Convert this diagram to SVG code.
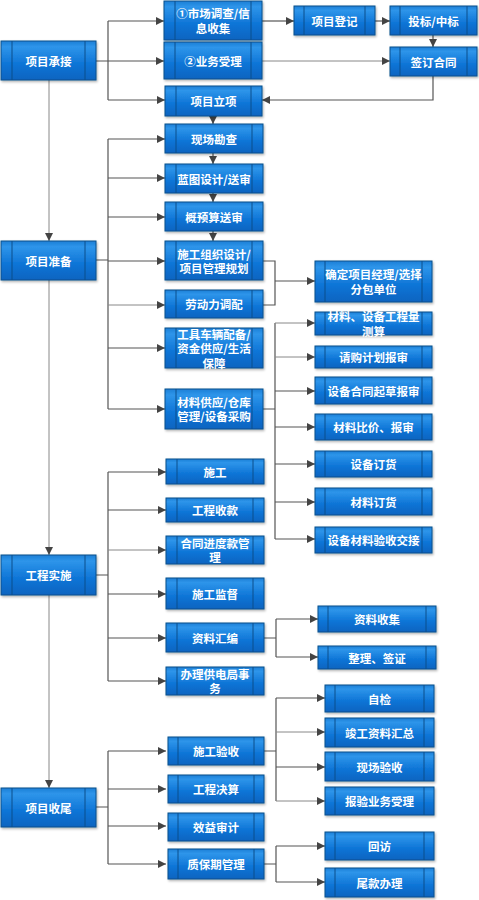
<svg xmlns="http://www.w3.org/2000/svg" width="479" height="900" viewBox="0 0 479 900">
<defs>
<linearGradient id="g" x1="0" y1="0" x2="0" y2="1">
<stop offset="0" stop-color="#1b7fd6"/>
<stop offset="0.15" stop-color="#2e95ea"/>
<stop offset="0.6" stop-color="#0d74d6"/>
<stop offset="1" stop-color="#0a64c0"/>
</linearGradient>
<filter id="sh" x="-10%" y="-10%" width="125%" height="140%">
<feDropShadow dx="1" dy="1.5" stdDeviation="1" flood-color="#000" flood-opacity="0.3"/>
</filter>
<marker id="a" markerWidth="8" markerHeight="8" refX="8" refY="4" orient="auto" markerUnits="userSpaceOnUse">
<path d="M0,0 L8,4 L0,8 z" fill="#444"/>
</marker>
</defs>
<style>
.b{fill:url(#g);stroke:#0b4f8c;stroke-width:1;filter:url(#sh)}
.s{stroke:#0b4f8c;stroke-width:1}
.t{fill:#fff;font-family:"Noto Sans CJK SC","Liberation Sans",sans-serif;font-size:11.5px;font-weight:bold;text-anchor:middle;dominant-baseline:central}
.c{fill:none;stroke:#555;stroke-width:1.2}
.c2{fill:none;stroke:#888;stroke-width:1}
.ar{marker-end:url(#a)}
</style>
<rect width="479" height="900" fill="#fff"/>
<g id="connectors">
<path class="c" d="M96,61 H108 M108,21 V100"/>
<path class="c ar" d="M108,21 H164"/>
<path class="c ar" d="M108,61 H164"/>
<path class="c ar" d="M108,100 H165"/>
<path class="c ar" d="M262,21 H294"/>
<path class="c ar" d="M375,21 H390"/>
<path class="c ar" d="M433,35 V47"/>
<path class="c2 ar" d="M262,61 H390"/>
<path class="c ar" d="M433,76 V100 H262"/>
<path class="c ar" d="M213,116 V124"/>
<path class="c ar" d="M213,153 V164"/>
<path class="c ar" d="M213,193 V202"/>
<path class="c ar" d="M213,231 V241"/>
<path class="c2 ar" d="M49,80 V241"/>
<path class="c" d="M96,260 H108 M108,139 V409"/>
<path class="c ar" d="M108,139 H165"/>
<path class="c ar" d="M108,178 H165"/>
<path class="c ar" d="M108,217 H165"/>
<path class="c ar" d="M108,261 H165"/>
<path class="c2 ar" d="M108,305 H165"/>
<path class="c ar" d="M108,348 H165"/>
<path class="c ar" d="M108,409 H165"/>
<path class="c" d="M263,261 H275 V305 H263"/>
<path class="c ar" d="M275,281 H315"/>
<path class="c" d="M263,409 H275 M275,323 V539"/>
<path class="c2 ar" d="M275,323 H315"/>
<path class="c2 ar" d="M275,357 H315"/>
<path class="c ar" d="M275,391 H315"/>
<path class="c ar" d="M275,427 H315"/>
<path class="c ar" d="M275,464 H315"/>
<path class="c ar" d="M275,502 H315"/>
<path class="c ar" d="M275,539 H315"/>
<path class="c2 ar" d="M49,280 V555"/>
<path class="c" d="M96,575 H108 M108,472 V681"/>
<path class="c ar" d="M108,472 H166"/>
<path class="c ar" d="M108,510 H166"/>
<path class="c2 ar" d="M108,550 H166"/>
<path class="c ar" d="M108,594 H166"/>
<path class="c ar" d="M108,638 H166"/>
<path class="c ar" d="M108,681 H166"/>
<path class="c" d="M264,638 H276 M276,619 V657"/>
<path class="c ar" d="M276,619 H318"/>
<path class="c ar" d="M276,657 H318"/>
<path class="c2 ar" d="M49,595 V788"/>
<path class="c" d="M96,807 H108 M108,751 V864"/>
<path class="c ar" d="M108,751 H166"/>
<path class="c ar" d="M108,789 H166"/>
<path class="c ar" d="M108,826 H166"/>
<path class="c ar" d="M108,864 H166"/>
<path class="c" d="M264,751 H276 M276,698 V801"/>
<path class="c ar" d="M276,698 H325"/>
<path class="c2 ar" d="M276,732 H325"/>
<path class="c ar" d="M276,767 H325"/>
<path class="c2 ar" d="M276,801 H325"/>
<path class="c" d="M264,864 H276 M276,846 V882"/>
<path class="c ar" d="M276,846 H325"/>
<path class="c ar" d="M276,882 H325"/>
</g>
<g id="n1"><rect class="b" x="1" y="41" width="95" height="39"/><path class="s" d="M12,41 V80 M85,41 V80"/><text class="t" x="48.5" y="60.5">项目承接</text></g>
<g id="n2"><rect class="b" x="1" y="241" width="95" height="39"/><path class="s" d="M12,241 V280 M85,241 V280"/><text class="t" x="48.5" y="260.5">项目准备</text></g>
<g id="n3"><rect class="b" x="1" y="555" width="95" height="40"/><path class="s" d="M12,555 V595 M85,555 V595"/><text class="t" x="48.5" y="575">工程实施</text></g>
<g id="n4"><rect class="b" x="1" y="788" width="95" height="39"/><path class="s" d="M12,788 V827 M85,788 V827"/><text class="t" x="48.5" y="807.5">项目收尾</text></g>

<g id="a1"><rect class="b" x="164" y="1" width="98" height="39"/><path class="s" d="M175,1 V40 M251,1 V40"/><text class="t" x="213" y="13">①市场调查/信</text><text class="t" x="213" y="28">息收集</text></g>
<g id="a2"><rect class="b" x="164" y="42" width="98" height="37"/><path class="s" d="M175,42 V79 M251,42 V79"/><text class="t" x="213" y="60.5">②业务受理</text></g>
<g id="a3"><rect class="b" x="165" y="86" width="97" height="30"/><path class="s" d="M176,86 V116 M251,86 V116"/><text class="t" x="213.5" y="101">项目立项</text></g>
<g id="a4"><rect class="b" x="294" y="6" width="81" height="29"/><path class="s" d="M304,6 V35 M365,6 V35"/><text class="t" x="334.5" y="20.5">项目登记</text></g>
<g id="a5"><rect class="b" x="390" y="6" width="87" height="29"/><path class="s" d="M400,6 V35 M467,6 V35"/><text class="t" x="433.5" y="20.5">投标/中标</text></g>
<g id="a6"><rect class="b" x="390" y="47" width="87" height="29"/><path class="s" d="M400,47 V76 M467,47 V76"/><text class="t" x="433.5" y="61.5">签订合同</text></g>

<g id="b1"><rect class="b" x="165" y="124" width="98" height="29"/><path class="s" d="M176,124 V153 M252,124 V153"/><text class="t" x="214" y="138.5">现场勘查</text></g>
<g id="b2"><rect class="b" x="165" y="164" width="98" height="29"/><path class="s" d="M176,164 V193 M252,164 V193"/><text class="t" x="214" y="178.5">蓝图设计/送审</text></g>
<g id="b3"><rect class="b" x="165" y="202" width="98" height="29"/><path class="s" d="M176,202 V231 M252,202 V231"/><text class="t" x="214" y="216.5">概预算送审</text></g>
<g id="b4"><rect class="b" x="165" y="241" width="98" height="39"/><path class="s" d="M176,241 V280 M252,241 V280"/><text class="t" x="214" y="253.5">施工组织设计/</text><text class="t" x="214" y="268">项目管理规划</text></g>
<g id="b5"><rect class="b" x="165" y="290" width="98" height="28"/><path class="s" d="M176,290 V318 M252,290 V318"/><text class="t" x="214" y="304">劳动力调配</text></g>
<g id="b6"><rect class="b" x="165" y="328" width="98" height="40"/><path class="s" d="M176,328 V368 M252,328 V368"/><text class="t" x="214" y="333.5">工具车辆配备/</text><text class="t" x="214" y="348">资金供应/生活</text><text class="t" x="214" y="362.5">保障</text></g>
<g id="b7"><rect class="b" x="165" y="389" width="98" height="40"/><path class="s" d="M176,389 V429 M252,389 V429"/><text class="t" x="214" y="401.5">材料供应/仓库</text><text class="t" x="214" y="416">管理/设备采购</text></g>

<g id="c1"><rect class="b" x="315" y="261" width="117" height="41"/><path class="s" d="M325,261 V302 M422,261 V302"/><text class="t" x="373.5" y="274">确定项目经理/选择</text><text class="t" x="373.5" y="289">分包单位</text></g>
<g id="c2"><rect class="b" x="315" y="312" width="117" height="23"/><path class="s" d="M325,312 V335 M422,312 V335"/><text class="t" x="373.5" y="316.25">材料、设备工程量</text><text class="t" x="373.5" y="330.75">测算</text></g>
<g id="c3"><rect class="b" x="315" y="346" width="117" height="22"/><path class="s" d="M325,346 V368 M422,346 V368"/><text class="t" x="373.5" y="357">请购计划报审</text></g>
<g id="c4"><rect class="b" x="315" y="377" width="117" height="27"/><path class="s" d="M325,377 V404 M422,377 V404"/><text class="t" x="373.5" y="390.5">设备合同起草报审</text></g>
<g id="c5"><rect class="b" x="315" y="414" width="117" height="26"/><path class="s" d="M325,414 V440 M422,414 V440"/><text class="t" x="373.5" y="427">材料比价、报审</text></g>
<g id="c6"><rect class="b" x="315" y="451" width="117" height="26"/><path class="s" d="M325,451 V477 M422,451 V477"/><text class="t" x="373.5" y="464">设备订货</text></g>
<g id="c7"><rect class="b" x="315" y="488" width="117" height="27"/><path class="s" d="M325,488 V515 M422,488 V515"/><text class="t" x="373.5" y="501.5">材料订货</text></g>
<g id="c8"><rect class="b" x="315" y="527" width="117" height="26"/><path class="s" d="M325,527 V553 M422,527 V553"/><text class="t" x="373.5" y="540">设备材料验收交接</text></g>

<g id="d1"><rect class="b" x="166" y="459" width="98" height="25"/><path class="s" d="M177,459 V484 M253,459 V484"/><text class="t" x="215" y="471.5">施工</text></g>
<g id="d2"><rect class="b" x="166" y="498" width="98" height="24"/><path class="s" d="M177,498 V522 M253,498 V522"/><text class="t" x="215" y="510">工程收款</text></g>
<g id="d3"><rect class="b" x="166" y="536" width="98" height="28"/><path class="s" d="M177,536 V564 M253,536 V564"/><text class="t" x="215" y="542.5">合同进度款管</text><text class="t" x="215" y="557">理</text></g>
<g id="d4"><rect class="b" x="166" y="578" width="98" height="31"/><path class="s" d="M177,578 V609 M253,578 V609"/><text class="t" x="215" y="593.5">施工监督</text></g>
<g id="d5"><rect class="b" x="166" y="623" width="98" height="29"/><path class="s" d="M177,623 V652 M253,623 V652"/><text class="t" x="215" y="637.5">资料汇编</text></g>
<g id="d6"><rect class="b" x="166" y="667" width="98" height="28"/><path class="s" d="M177,667 V695 M253,667 V695"/><text class="t" x="215" y="673.5">办理供电局事</text><text class="t" x="215" y="688">务</text></g>
<g id="e1"><rect class="b" x="318" y="606" width="118" height="26"/><path class="s" d="M328,606 V632 M426,606 V632"/><text class="t" x="377" y="619">资料收集</text></g>
<g id="e2"><rect class="b" x="318" y="646" width="118" height="23"/><path class="s" d="M328,646 V669 M426,646 V669"/><text class="t" x="377" y="657.5">整理、签证</text></g>

<g id="f1"><rect class="b" x="168" y="737" width="96" height="28"/><path class="s" d="M178,737 V765 M254,737 V765"/><text class="t" x="216" y="751">施工验收</text></g>
<g id="f2"><rect class="b" x="168" y="775" width="96" height="28"/><path class="s" d="M178,775 V803 M254,775 V803"/><text class="t" x="216" y="789">工程决算</text></g>
<g id="f3"><rect class="b" x="168" y="813" width="96" height="28"/><path class="s" d="M178,813 V841 M254,813 V841"/><text class="t" x="216" y="827">效益审计</text></g>
<g id="f4"><rect class="b" x="168" y="849" width="96" height="30"/><path class="s" d="M178,849 V879 M254,849 V879"/><text class="t" x="216" y="864">质保期管理</text></g>
<g id="h1"><rect class="b" x="325" y="685" width="109" height="27"/><path class="s" d="M335,685 V712 M424,685 V712"/><text class="t" x="379.5" y="698.5">自检</text></g>
<g id="h2"><rect class="b" x="325" y="718" width="109" height="29"/><path class="s" d="M335,718 V747 M424,718 V747"/><text class="t" x="379.5" y="732.5">竣工资料汇总</text></g>
<g id="h3"><rect class="b" x="325" y="752" width="109" height="29"/><path class="s" d="M335,752 V781 M424,752 V781"/><text class="t" x="379.5" y="766.5">现场验收</text></g>
<g id="h4"><rect class="b" x="325" y="787" width="109" height="28"/><path class="s" d="M335,787 V815 M424,787 V815"/><text class="t" x="379.5" y="801">报验业务受理</text></g>
<g id="h5"><rect class="b" x="325" y="832" width="109" height="28"/><path class="s" d="M335,832 V860 M424,832 V860"/><text class="t" x="379.5" y="846">回访</text></g>
<g id="h6"><rect class="b" x="325" y="868" width="109" height="29"/><path class="s" d="M335,868 V897 M424,868 V897"/><text class="t" x="379.5" y="882.5">尾款办理</text></g>
</svg>
